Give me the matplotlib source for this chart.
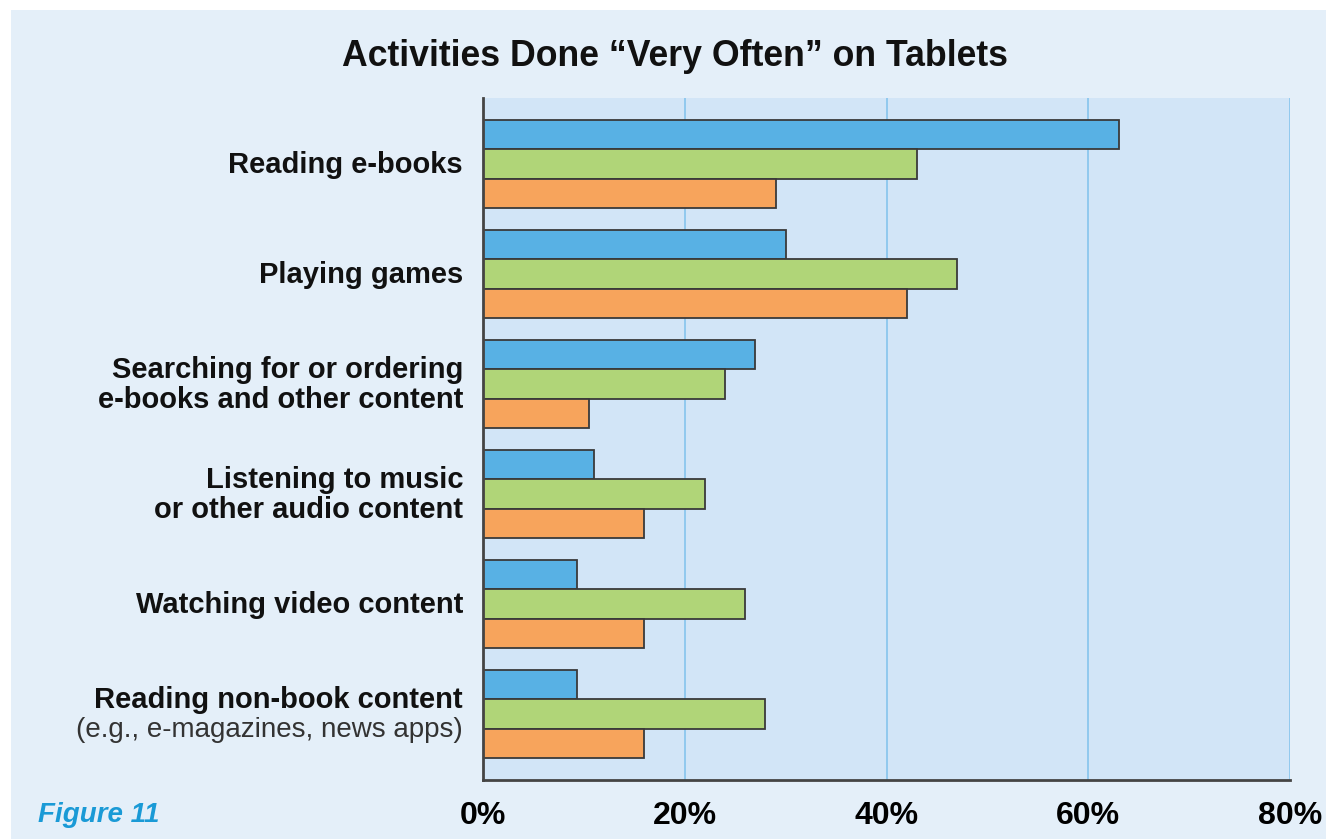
import numpy as np
import matplotlib.pyplot as plt
from matplotlib.patches import Rectangle
from matplotlib.transforms import blended_transform_factory

# survey shares, percent of respondents doing each activity "very often"
activities = [
    "Reading e-books",
    "Playing games",
    "Searching for or ordering\ne-books and other content",
    "Listening to music\nor other audio content",
    "Watching video content",
    "Reading non-book content",
]
activity_note = [None, None, None, None, None, "(e.g., e-magazines, news apps)"]
blue_vals = [63, 30, 27, 11, 9.3, 9.3]
green_vals = [43, 47, 24, 22, 26, 28]
orange_vals = [29, 42, 10.5, 16, 16, 16]
xticks = [0, 20, 40, 60, 80]

BLUE = '#58b1e4'
GREEN = '#b0d578'
ORANGE = '#f7a45c'
PANEL = '#e4eff9'
PLOT_BG = '#d2e5f7'
GRID = '#8cc6ee'
EDGE = '#3a3a3a'

plt.rcParams['font.family'] = ['Liberation Sans', 'DejaVu Sans']

fig = plt.figure(figsize=(13.26, 8.39), dpi=100, facecolor='white')
# light blue card behind everything, leaving a thin white margin top/left
fig.patches.append(Rectangle((11 / 1326, 0), 1 - 11 / 1326, 1 - 10 / 839,
                             transform=fig.transFigure, facecolor=PANEL,
                             edgecolor='none', zorder=-10))

ax = fig.add_axes([483 / 1326, 59 / 839, 807 / 1326, 682 / 839])
ax.set_zorder(1)
ax.set_facecolor(PLOT_BG)

y = np.arange(len(activities))
h = 0.267
kw = dict(height=h, edgecolor=EDGE, linewidth=1.3, zorder=3)
ax.barh(y - h, blue_vals, color=BLUE, **kw)
ax.barh(y, green_vals, color=GREEN, **kw)
ax.barh(y + h, orange_vals, color=ORANGE, **kw)

ax.set_xlim(0, 80)
ax.set_ylim(len(activities) - 0.4, -0.6)
ax.set_xticks(xticks)
ax.set_xticklabels([f'{t}%' for t in xticks], fontweight='bold', fontsize=23)
ax.tick_params(axis='x', length=0, pad=15)
ax.set_yticks([])
ax.grid(axis='x', color=GRID, linewidth=1.3, zorder=1)

for side in ['top', 'right']:
    ax.spines[side].set_visible(False)
for side in ['left', 'bottom']:
    ax.spines[side].set_color('#444444')
    ax.spines[side].set_linewidth(2)
    ax.spines[side].set_zorder(4)

trans = blended_transform_factory(ax.transAxes, ax.transData)
for i, (name, note) in enumerate(zip(activities, activity_note)):
    if note is None:
        ax.annotate(name, xy=(0, i), xycoords=trans, xytext=(-20, -1),
                    textcoords='offset pixels', ha='right', va='center',
                    fontsize=21, fontweight='bold', color='#111111',
                    linespacing=1.12, annotation_clip=False)
    else:
        ax.annotate(name, xy=(0, i), xycoords=trans, xytext=(-20, 14),
                    textcoords='offset pixels', ha='right', va='center',
                    fontsize=21, fontweight='bold', color='#111111',
                    annotation_clip=False)
        ax.annotate(note, xy=(0, i), xycoords=trans, xytext=(-20, -16),
                    textcoords='offset pixels', ha='right', va='center',
                    fontsize=20, color='#333333', annotation_clip=False)

fig.text(675 / 1326, 1 - 57 / 839, 'Activities Done \u201cVery Often\u201d on Tablets',
         ha='center', va='center', fontsize=25.7, fontweight='bold', color='#111111')
fig.text(38 / 1326, 1 - 815 / 839, 'Figure 11', ha='left', va='center',
         fontsize=20, fontweight='bold', fontstyle='italic', color='#1a9ad6')

fig.savefig('out.png', dpi=100, facecolor=fig.get_facecolor())
